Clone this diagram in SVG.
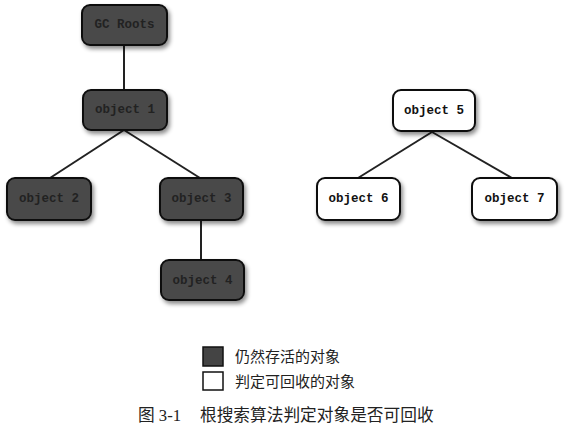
<svg xmlns="http://www.w3.org/2000/svg" width="570" height="434" viewBox="0 0 570 434">
<style>
.dark rect{fill:#4a4a4a;stroke:#111;stroke-width:2}
.light rect{fill:#fff;stroke:#111;stroke-width:2}
.node text{font-family:"Liberation Mono",monospace;font-size:12.5px;font-weight:bold;text-anchor:middle;dominant-baseline:central}
.dark text{fill:#222}
.light text{fill:#111}
.conn line{stroke:#222;stroke-width:2}
.leg{font-family:"Noto Sans CJK SC",sans-serif;font-size:15px;fill:#222}
.cap{font-family:"Liberation Serif","Noto Sans CJK SC",serif;font-size:16.7px;fill:#222}
</style>
<defs>
<filter id="sh" x="-20%" y="-20%" width="150%" height="160%">
<feDropShadow dx="2" dy="3" stdDeviation="2" flood-color="#000" flood-opacity="0.45"/>
</filter>
</defs>
<rect width="570" height="434" fill="#fff"/>
<g class="conn">
<line x1="124" y1="45" x2="124" y2="90"/>
<line x1="124" y1="130" x2="50" y2="178"/>
<line x1="124" y1="130" x2="200" y2="178"/>
<line x1="201" y1="220" x2="201" y2="260"/>
<line x1="432" y1="132" x2="358" y2="178"/>
<line x1="432" y1="132" x2="512" y2="178"/>
</g>
<g id="gcroots" class="node dark"><rect x="82" y="5" width="85" height="40" rx="8" filter="url(#sh)"/><text x="124.5" y="25">GC Roots</text></g>
<g id="object1" class="node dark"><rect x="83" y="90" width="84" height="40" rx="8" filter="url(#sh)"/><text x="125" y="110">object 1</text></g>
<g id="object2" class="node dark"><rect x="7" y="178" width="84" height="42" rx="8" filter="url(#sh)"/><text x="49" y="199">object 2</text></g>
<g id="object3" class="node dark"><rect x="160" y="178" width="83" height="42" rx="8" filter="url(#sh)"/><text x="201.5" y="199">object 3</text></g>
<g id="object4" class="node dark"><rect x="161" y="260" width="83" height="40" rx="8" filter="url(#sh)"/><text x="202.5" y="281">object 4</text></g>
<g id="object5" class="node light"><rect x="393" y="90" width="82" height="41" rx="8" filter="url(#sh)"/><text x="434" y="111">object 5</text></g>
<g id="object6" class="node light"><rect x="317" y="178" width="83" height="42" rx="8" filter="url(#sh)"/><text x="358.5" y="199">object 6</text></g>
<g id="object7" class="node light"><rect x="472" y="178" width="85" height="42" rx="8" filter="url(#sh)"/><text x="514.5" y="199">object 7</text></g>
<g id="legend">
<rect x="203" y="347" width="20" height="19" fill="#444" stroke="#111" stroke-width="1.5"/>
<text class="leg" x="235" y="362">仍然存活的对象</text>
<rect x="203" y="372" width="20" height="18" fill="#fff" stroke="#111" stroke-width="1.5"/>
<text class="leg" x="235" y="387">判定可回收的对象</text>
</g>
<text class="cap" x="138" y="421">图 3-1<tspan x="200">根搜索算法判定对象是否可回收</tspan></text>
</svg>
